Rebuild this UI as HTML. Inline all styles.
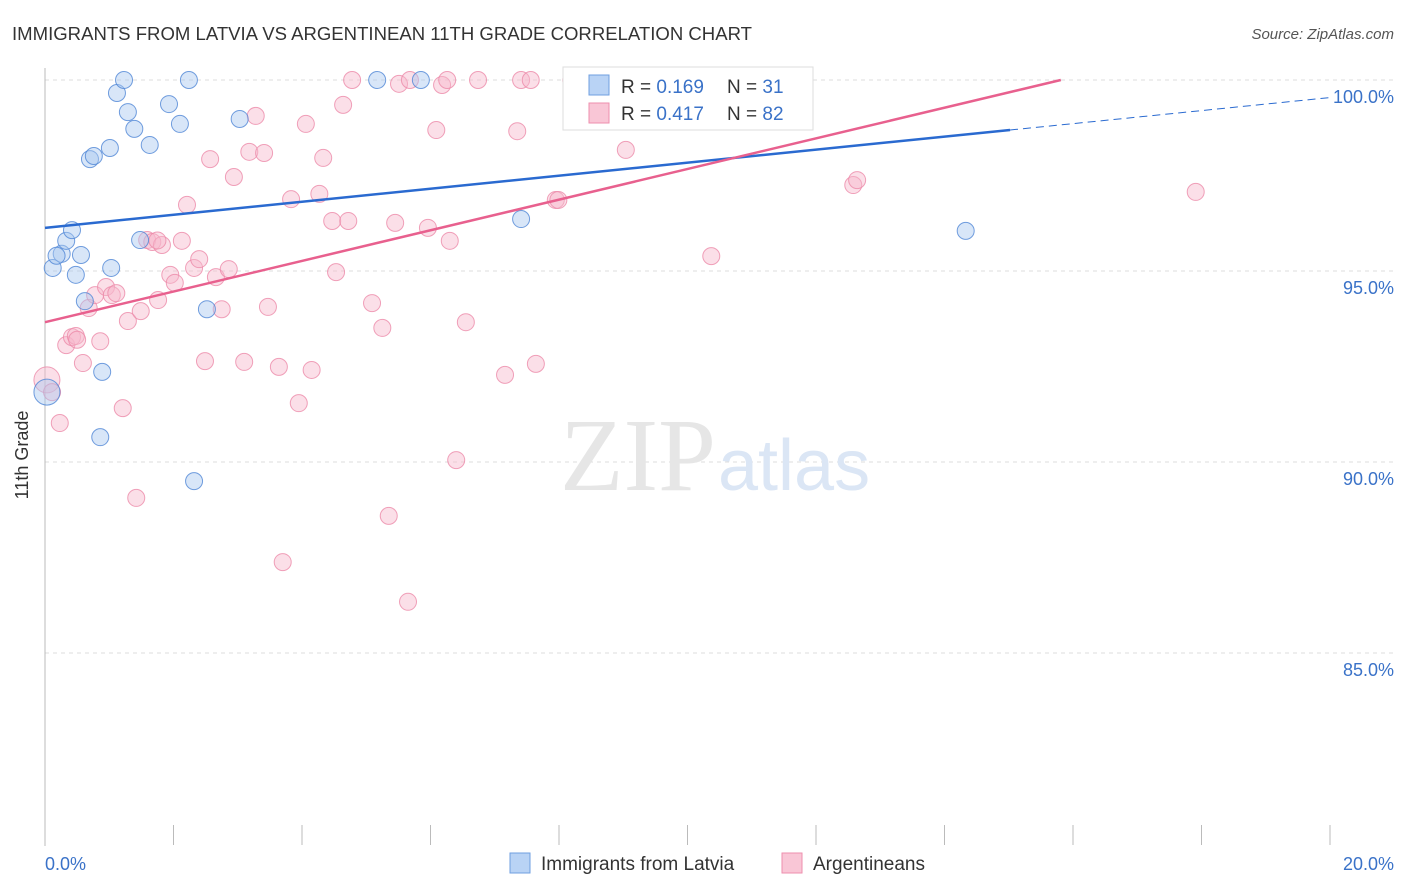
<!DOCTYPE html>
<html><head><meta charset="utf-8"><style>
body{margin:0;background:#fff;font-family:"Liberation Sans",sans-serif;}
svg{display:block}
</style></head><body>
<svg width="1406" height="892">
<text x="12" y="40" font-size="18" fill="#333" textLength="740" lengthAdjust="spacingAndGlyphs">IMMIGRANTS FROM LATVIA VS ARGENTINEAN 11TH GRADE CORRELATION CHART</text>
<text x="1394" y="39" font-size="15" fill="#555" text-anchor="end" font-style="italic">Source: ZipAtlas.com</text>
<g id="grid"></g>
<text x="716" y="490" font-size="104" fill="#e6e6e6" text-anchor="end" font-family="Liberation Serif">ZIP</text>
<text x="718" y="490" font-size="72" fill="#dbe6f5">atlas</text>
<line x1="45" y1="68" x2="45" y2="846" stroke="#bbb"/>
<g id="xticks"></g>
<g id="pts"></g>
<g id="lines"></g>
<text x="28" y="455" font-size="18" fill="#333" text-anchor="middle" transform="rotate(-90 28 455)">11th Grade</text>
<text x="45" y="870" font-size="18" fill="#3a72c8">0.0%</text>
<text x="1394" y="870" font-size="18" fill="#3a72c8" text-anchor="end">20.0%</text>
<g>
<rect x="563" y="67" width="250" height="63" fill="#fff" stroke="#ddd"/>
<rect x="589" y="75" width="20" height="20" fill="#b9d3f5" stroke="#6f9fe0"/>
<rect x="589" y="103" width="20" height="20" fill="#f9c6d6" stroke="#ee8fae"/>
<text x="621" y="93" font-size="19" fill="#333">R = <tspan fill="#3a72c8">0.169</tspan></text>
<text x="727" y="93" font-size="19" fill="#333">N = <tspan fill="#3a72c8"> 31</tspan></text>
<text x="621" y="120" font-size="19" fill="#333">R = <tspan fill="#3a72c8">0.417</tspan></text>
<text x="727" y="120" font-size="19" fill="#333">N = <tspan fill="#3a72c8">82</tspan></text>
</g>
<g>
<rect x="510" y="853" width="20" height="20" fill="#b9d3f5" stroke="#6f9fe0"/>
<text x="541" y="870" font-size="19" fill="#333">Immigrants from Latvia</text>
<rect x="782" y="853" width="20" height="20" fill="#f9c6d6" stroke="#ee8fae"/>
<text x="813" y="870" font-size="19" fill="#333">Argentineans</text>
</g>
</svg>
<script>
const yTicks=[100,95,90,85];
const yTickLabels=["100.0%","95.0%","90.0%","85.0%"];
const blueX=[0.12,0.26,0.33,0.42,0.48,0.56,0.62,0.70,0.76,0.86,0.89,1.01,1.03,1.12,1.23,1.29,1.39,1.48,1.63,1.93,2.10,2.24,2.32,2.52,3.03,5.17,5.85,7.41,14.33,0.03,0.18];
const blueY=[95.08,95.45,95.79,96.07,94.9,95.42,94.21,97.93,98.01,90.65,92.36,98.22,95.08,99.66,100,99.16,98.72,95.81,98.3,99.37,98.85,100,89.5,94.0,98.98,100,100,96.36,96.05,91.83,95.4];
const pinkX=[0.03,0.11,0.23,0.33,0.42,0.48,0.59,0.68,0.78,0.86,0.95,1.04,1.11,1.21,1.29,1.42,1.49,1.59,1.67,1.76,1.82,1.95,2.02,2.13,2.21,2.32,2.40,2.49,2.57,2.66,2.75,2.86,2.94,3.10,3.18,3.28,3.41,3.47,3.64,3.70,3.83,3.95,4.06,4.15,4.27,4.33,4.47,4.53,4.64,4.72,4.78,5.09,5.25,5.35,5.45,5.51,5.65,5.68,5.96,6.09,6.18,6.26,6.30,6.40,6.55,6.74,7.16,7.35,7.41,7.56,7.64,7.95,7.99,8.19,9.04,10.37,12.58,12.64,17.91,9.57,1.75,0.5];
const pinkY=[92.15,91.83,91.02,93.06,93.27,93.3,92.59,94.03,94.37,93.16,94.58,94.37,94.42,91.41,93.69,89.06,93.95,95.81,95.76,94.24,95.68,94.9,94.69,95.79,96.73,95.08,95.31,92.64,97.93,94.84,94.0,95.05,97.46,92.62,98.12,99.06,98.09,94.06,92.49,87.38,96.88,91.54,98.85,92.41,97.02,97.96,96.31,94.97,99.35,96.31,100,94.16,93.51,88.59,96.26,99.9,86.34,100,96.13,98.69,99.87,100,95.79,90.05,93.66,100,92.28,98.66,100,100,92.57,96.86,96.86,100,98.17,95.39,97.25,97.38,97.07,100,95.8,93.2];
const blueFit=[96.13,0.1705];
const pinkFit=[93.66,0.401];
const xs=v=>45+v/20*1285;
const ys=v=>80+(100-v)*38.2;
const NS="http://www.w3.org/2000/svg";
function mk(tag,attrs,parent){const e=document.createElementNS(NS,tag);for(const k in attrs)e.setAttribute(k,attrs[k]);document.getElementById(parent).appendChild(e);return e;}
yTicks.forEach((t,i)=>{
 const l=mk('line',{x1:45,x2:1394,y1:ys(t),y2:ys(t),stroke:'#ddd','stroke-dasharray':'4 4'},'grid');
 
 
 const tx=mk('text',{x:1394,y:ys(t)+23,'font-size':18,fill:'#3a72c8','text-anchor':'end'},'grid');
 tx.textContent=yTickLabels[i];
 
 
});
for(let i=0;i<=10;i++){
 const l=mk('line',{x1:xs(i*2),x2:xs(i*2),y1:825,y2:845,stroke:'#bbb'},'xticks');
 
 
}
function drawPts(X,Y,fill,stroke,name){
 X.forEach((x,i)=>{
  const big=(x<0.05);
  const c=mk('circle',{cx:xs(x),cy:ys(Y[i]),r:big?13:8.5,fill:fill,'fill-opacity':0.45,stroke:stroke,'stroke-opacity':0.8,'stroke-width':1},'pts');
  
  
 });
}
drawPts(pinkX,pinkY,'#f7b8cb','#ec8aa9','argentinean-point');
drawPts(blueX,blueY,'#a9c8f0','#4f86d6','latvia-point');
let l=mk('line',{x1:xs(0),y1:ys(blueFit[0]),x2:xs(15.02),y2:ys(blueFit[0]+blueFit[1]*15.02),stroke:'#2a6ad0','stroke-width':2.5},'lines');


l=mk('line',{x1:xs(15.02),y1:ys(blueFit[0]+blueFit[1]*15.02),x2:xs(20),y2:ys(blueFit[0]+blueFit[1]*20),stroke:'#2a6ad0','stroke-width':1,'stroke-dasharray':'8 5'},'lines');


const pEnd=(100-pinkFit[0])/pinkFit[1];
l=mk('line',{x1:xs(0),y1:ys(pinkFit[0]),x2:xs(pEnd),y2:ys(100),stroke:'#e8608e','stroke-width':2.5},'lines');


</script>
</body></html>
